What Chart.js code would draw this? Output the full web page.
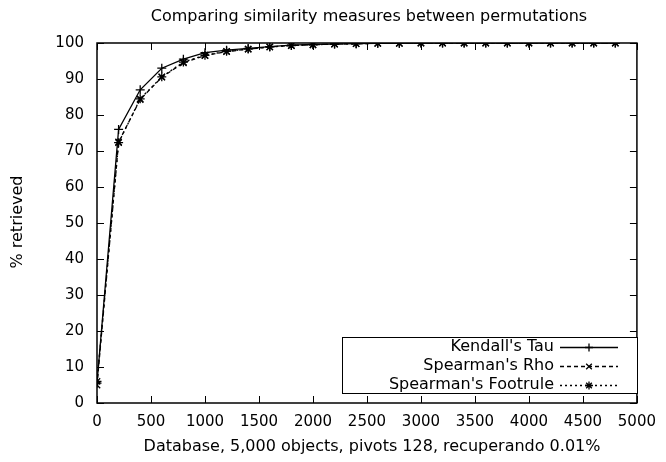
<!DOCTYPE html>
<html><head><meta charset="utf-8">
<script src="https://cdn.jsdelivr.net/npm/chart.js@4"></script>
<style>html,body{margin:0;padding:0;background:#fff}#w{width:666px;height:462px}</style>
</head><body><div id="w"><canvas id="c" width="666" height="462"></canvas></div>
<script>
const xValues = [0,200,400,600,800,1000,1200,1400,1600,1800,2000,2200,2400,2600,2800,3000,3200,3400,3600,3800,4000,4200,4400,4600,4800];
const kendall = [5.5,76,87,93,95.5,97.3,98,98.5,99,99.4,99.6,99.7,99.8,99.9,99.9,100,100,100,100,100,100,100,100,100,100];
const rho = [5,72.5,84.3,90.5,94.5,96.5,97.6,98.3,98.9,99.3,99.5,99.7,99.8,99.9,99.9,100,100,100,100,100,100,100,100,100,100];
const footrule = [6,72.3,84.5,90.6,94.7,96.6,97.7,98.3,98.9,99.3,99.5,99.7,99.8,99.9,99.9,100,100,100,100,100,100,100,100,100,100];
const seriesNames = ["Kendall's Tau","Spearman's Rho","Spearman's Footrule"];
const xTicks = [0,500,1000,1500,2000,2500,3000,3500,4000,4500,5000];
const yTicks = [0,10,20,30,40,50,60,70,80,90,100];
const titleText = "Comparing similarity measures between permutations";
const xTitle = "Database, 5,000 objects, pivots 128, recuperando 0.01%";
const yTitle = "% retrieved";

const FONT = "'DejaVu Sans', sans-serif";
const styles = [
  {dash:[], pt:'cross'},
  {dash:[4,3], pt:'crossRot'},
  {dash:[2,3], pt:'star'}
];
const mk = (arr) => xValues.map((x,i)=>({x:x,y:arr[i]}));
const datasets = [kendall,rho,footrule].map((arr,i)=>({
  label: seriesNames[i], data: mk(arr),
  borderColor:'#000', backgroundColor:'#000', borderWidth:1.3,
  borderDash: styles[i].dash, pointStyle: styles[i].pt, pointRadius:4.5,
  pointBorderWidth:1.3, pointBorderColor:'#000', pointHoverRadius:4.5, tension:0, fill:false
}));

const deco = {
  id:'deco',
  afterDraw(chart){
    const ctx = chart.ctx, a = chart.chartArea;
    const xs = chart.scales.x, ys = chart.scales.y;
    ctx.save();
    ctx.strokeStyle='#000'; ctx.lineWidth=1.5;
    ctx.strokeRect(a.left, a.top, a.right-a.left, a.bottom-a.top);
    ctx.lineWidth=1;
    const tl=7;
    ctx.beginPath();
    xTicks.forEach(v=>{const px=Math.round(xs.getPixelForValue(v))+0.5;
      ctx.moveTo(px,a.bottom); ctx.lineTo(px,a.bottom-tl);
      ctx.moveTo(px,a.top); ctx.lineTo(px,a.top+tl);});
    yTicks.forEach(v=>{const py=Math.round(ys.getPixelForValue(v))+0.5;
      ctx.moveTo(a.left,py); ctx.lineTo(a.left+tl,py);
      ctx.moveTo(a.right,py); ctx.lineTo(a.right-tl,py);});
    ctx.stroke();
    // title
    ctx.fillStyle='#000';
    ctx.font = "16px "+FONT;
    ctx.textAlign='center'; ctx.textBaseline='middle';
    ctx.fillText(titleText, 369, 17);
    ctx.fillText(xTitle, 372, 447);
    ctx.save(); ctx.translate(18,222); ctx.rotate(-Math.PI/2);
    ctx.fillText(yTitle,0,0); ctx.restore();
    // legend
    const lx=342, ly=337, lw=295, lh=56;
    ctx.fillStyle='#fff'; ctx.fillRect(lx,ly,lw,lh);
    ctx.lineWidth=1; ctx.strokeStyle='#000';
    ctx.strokeRect(lx+0.5,ly+0.5,lw,lh);
    ctx.textAlign='right';
    seriesNames.forEach((n,i)=>{
      const y = 347 + i*19;
      ctx.fillStyle='#000';
      ctx.fillText(n, 554, y);
      ctx.setLineDash(styles[i].dash); ctx.lineWidth=1.3;
      ctx.beginPath(); ctx.moveTo(560,Math.round(y)+0.5); ctx.lineTo(618,Math.round(y)+0.5); ctx.stroke();
      ctx.setLineDash([]); ctx.lineWidth=1.3;
      Chart.helpers.drawPoint(ctx,{pointStyle:styles[i].pt, radius:4, borderWidth:1.3}, 589, Math.round(y)+0.5);
    });
    ctx.restore();
  }
};

new Chart(document.getElementById('c'),{
  type:'line',
  data:{datasets},
  options:{
    responsive:false, animation:false,
    layout:{padding:{top:43,right:21,left:0,bottom:0}},
    plugins:{legend:{display:false}, title:{display:false}, tooltip:{enabled:false}},
    scales:{
      x:{type:'linear', min:0, max:5000,
        afterBuildTicks(s){s.ticks = xTicks.map(v=>({value:v}));},
        afterFit(s){s.height=59;},
        grid:{display:false, drawTicks:false},
        border:{display:false},
        ticks:{color:'#000', padding:10, maxRotation:0, autoSkip:false, font:{family:FONT, size:15},
          callback:(v)=>String(v)}
      },
      y:{type:'linear', min:0, max:100,
        afterBuildTicks(s){s.ticks = yTicks.map(v=>({value:v}));},
        afterFit(s){s.width=97;},
        grid:{display:false, drawTicks:false},
        border:{display:false},
        ticks:{color:'#000', padding:13, autoSkip:false, font:{family:FONT, size:15},
          callback:(v)=>String(v)}
      }
    }
  },
  plugins:[deco]
});
</script></body></html>
